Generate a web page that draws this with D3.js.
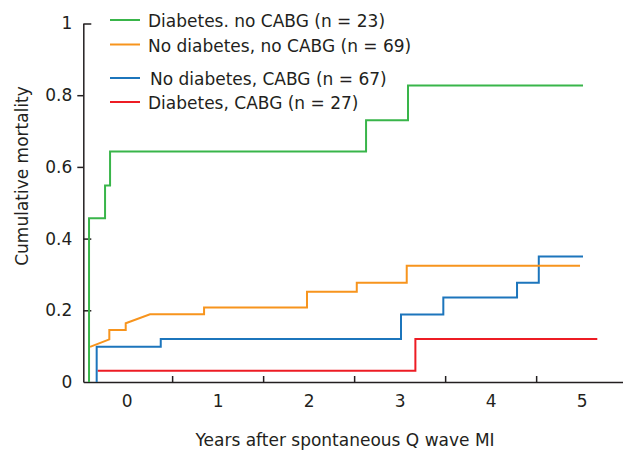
<!DOCTYPE html>
<html>
<head>
<meta charset="utf-8">
<script src="https://cdn.jsdelivr.net/npm/d3@7"></script>
<style>
  body { margin: 0; background: #fff; }
  svg text { font-family: "DejaVu Sans", sans-serif; fill: #231f20; }
  .axis path, .axis line { stroke: #231f20; stroke-width: 1.5; }
</style>
</head>
<body>
<div id="chart"></div>
<script>
// series: [years, cumulative mortality] vertices
var greenSeries = [[-0.413, 0], [-0.413, 0.457], [-0.237, 0.548], [-0.182, 0.643],
                   [2.631, 0.73], [3.092, 0.827], [5.015, 0.827]];
var blueSeries = [[-0.329, 0], [-0.329, 0.098], [0.375, 0.12], [3.015, 0.188],
                  [3.48, 0.236], [4.29, 0.277], [4.529, 0.35], [5.015, 0.35]];
var redSeries = [[-0.318, 0.0315], [3.173, 0.12], [5.172, 0.12]];
// orange has sloped parts, so it is kept as plain vertices
var orangeSeries = [[-0.402, 0.098], [-0.19, 0.119], [-0.19, 0.145], [-0.01, 0.145],
                    [-0.01, 0.164], [0.257, 0.189], [0.851, 0.189], [0.851, 0.208],
                    [1.982, 0.208], [1.982, 0.252], [2.529, 0.252], [2.529, 0.277],
                    [3.078, 0.277], [3.078, 0.324], [4.982, 0.324]];

var legendLabels = ['Diabetes. no CABG (n = 23)', 'No diabetes, no CABG (n = 69)',
                    'No diabetes, CABG (n = 67)', 'Diabetes, CABG (n = 27)'];
var xLabelTicks = [0, 1, 2, 3, 4, 5];
var xMarkTicks = [0.5, 1.5, 2.5, 3.5, 4.5];
var yLabelTicks = [0, 0.2, 0.4, 0.6, 0.8, 1];
var yLeftTicks = [0.6, 0.8];
var yRightTicks = [0.2, 0.4, 1];

var width = 623, height = 453;

var svg = d3.select('#chart')
  .append('svg')
    .attr('width', width)
    .attr('height', height);

var x = d3.scaleLinear().domain([-0.476, 5.45]).range([83.3, 622.6]);
var y = d3.scaleLinear().domain([0, 1]).range([382, 23.5]);

// y axis: labels, then tick marks on either side as in the figure
svg.append('g')
    .attr('class', 'axis')
    .attr('transform', 'translate(' + x.range()[0] + ',0)')
    .call(d3.axisLeft(y).tickValues(yLabelTicks).tickSizeInner(0).tickSizeOuter(0)
      .tickPadding(11).tickFormat(function (d) { return d === 1 || d === 0 ? d : d3.format('.1f')(d); }))
    .call(function (g) { g.selectAll('text').style('font-size', '17px'); });
svg.append('g')
    .attr('class', 'axis')
    .attr('transform', 'translate(' + x.range()[0] + ',0)')
    .call(d3.axisLeft(y).tickValues(yLeftTicks).tickSize(6).tickFormat(''))
    .call(function (g) { g.select('.domain').remove(); });
svg.append('g')
    .attr('class', 'axis')
    .attr('transform', 'translate(' + x.range()[0] + ',0)')
    .call(d3.axisLeft(y).tickValues(yRightTicks).tickSize(-8).tickFormat(''))
    .call(function (g) { g.select('.domain').remove(); });

// x axis: half-year marks without labels, integer labels without marks
svg.append('g')
    .attr('class', 'axis')
    .attr('transform', 'translate(0,' + y(0) + ')')
    .call(d3.axisBottom(x).tickValues(xMarkTicks).tickSizeInner(-6).tickSizeOuter(0).tickFormat(''));
svg.append('g')
    .attr('class', 'axis')
    .attr('transform', 'translate(0,' + y(0) + ')')
    .call(d3.axisBottom(x).tickValues(xLabelTicks).tickSize(0).tickPadding(13).tickFormat(d3.format('d')))
    .call(function (g) {
      g.select('.domain').remove();
      g.selectAll('text').style('font-size', '17px');
    });

svg.append('text')
    .attr('x', 345)
    .attr('y', 446)
    .attr('text-anchor', 'middle')
    .style('font-size', '17px')
    .text('Years after spontaneous Q wave MI');

svg.append('text')
    .attr('transform', 'translate(28,176) rotate(-90)')
    .attr('text-anchor', 'middle')
    .style('font-size', '17px')
    .text('Cumulative mortality');

var stepLine = d3.line()
    .x(function (d) { return x(d[0]); })
    .y(function (d) { return y(d[1]); })
    .curve(d3.curveStepAfter);
var plainLine = d3.line()
    .x(function (d) { return x(d[0]); })
    .y(function (d) { return y(d[1]); });

var series = [
  { data: redSeries, color: '#ed1c24', line: stepLine },
  { data: blueSeries, color: '#1c75bc', line: stepLine },
  { data: orangeSeries, color: '#f7941d', line: plainLine },
  { data: greenSeries, color: '#39b54a', line: stepLine }
];

svg.selectAll('path.series')
  .data(series)
  .enter().append('path')
    .classed('series', true)
    .attr('d', function (s) { return s.line(s.data); })
    .attr('fill', 'none')
    .attr('stroke', function (s) { return s.color; })
    .attr('stroke-width', 2);

var legendColors = ['#39b54a', '#f7941d', '#1c75bc', '#ed1c24'];
var legendY = [20, 44.5, 78, 102];

var leg = svg.selectAll('g.legend')
  .data(legendLabels)
  .enter().append('g')
    .classed('legend', true)
    .attr('transform', function (d, i) { return 'translate(110,' + legendY[i] + ')'; });
leg.append('line')
    .attr('x1', 0).attr('x2', 30)
    .attr('stroke', function (d, i) { return legendColors[i]; })
    .attr('stroke-width', 2);
leg.append('text')
    .attr('x', function (d, i) { return i === 2 ? 40 : 38; })
    .attr('y', 7)
    .style('font-size', '17px')
    .text(function (d) { return d; });
</script>
</body>
</html>
